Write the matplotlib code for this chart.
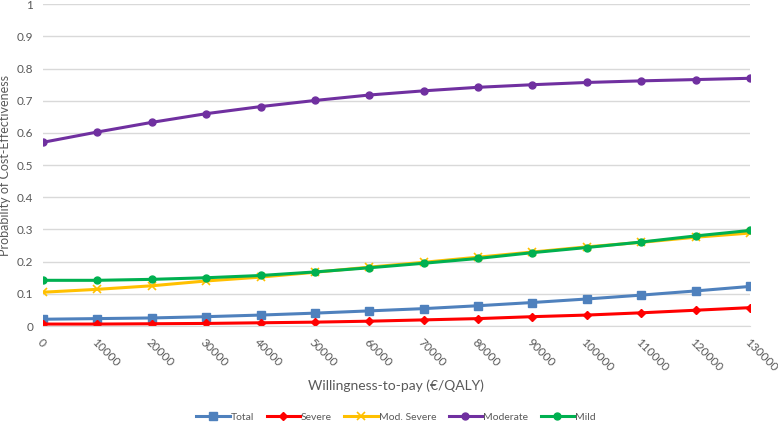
import matplotlib.pyplot as plt
import numpy as np

plt.rcParams['font.family'] = ['Lato', 'DejaVu Sans']

# willingness-to-pay thresholds (EUR/QALY)
wtp = [0, 10000, 20000, 30000, 40000, 50000, 60000, 70000,
       80000, 90000, 100000, 110000, 120000, 130000]

total = [0.021, 0.023, 0.025, 0.029, 0.034, 0.040, 0.047, 0.054,
         0.063, 0.073, 0.084, 0.096, 0.109, 0.123]
severe = [0.006, 0.006, 0.007, 0.008, 0.010, 0.012, 0.015, 0.019,
          0.023, 0.029, 0.034, 0.041, 0.049, 0.057]
mod_severe = [0.105, 0.114, 0.125, 0.140, 0.152, 0.167, 0.183, 0.198,
              0.214, 0.230, 0.246, 0.260, 0.276, 0.289]
moderate = [0.571, 0.603, 0.633, 0.660, 0.682, 0.701, 0.718, 0.731,
            0.742, 0.750, 0.757, 0.762, 0.766, 0.770]
mild = [0.142, 0.142, 0.145, 0.150, 0.157, 0.168, 0.181, 0.195,
        0.210, 0.228, 0.244, 0.261, 0.280, 0.297]

y_ticks = [0, 0.1, 0.2, 0.3, 0.4, 0.5, 0.6, 0.7, 0.8, 0.9, 1]
y_tick_labels = ["0", "0.1", "0.2", "0.3", "0.4", "0.5", "0.6", "0.7", "0.8", "0.9", "1"]

fig = plt.figure(figsize=(7.78, 4.23), dpi=100)
ax = fig.add_axes([43/778, 1-326/423, (750-43)/778, (326-4.3)/423])

ax.plot(wtp, total, color="#4F81BD", lw=2.2, marker="s", ms=6, label="Total")
ax.plot(wtp, severe, color="#FF0000", lw=2.2, marker="D", ms=4.5, label="Severe")
ax.plot(wtp, mod_severe, color="#FFC000", lw=2.2, marker="x", ms=6, mew=1.2, label="Mod. Severe")
ax.plot(wtp, moderate, color="#7030A0", lw=2.2, marker="o", ms=5, label="Moderate")
ax.plot(wtp, mild, color="#00B050", lw=2.2, marker="o", ms=5, label="Mild")

ax.set_xlim(0, 130000)
ax.set_ylim(0, 1)
ax.set_yticks(y_ticks)
ax.set_yticklabels(y_tick_labels)
ax.set_xticks(wtp)
ax.set_xticklabels([str(v) for v in wtp], rotation=-45, ha="left", va="top",
                   rotation_mode="anchor")
ax.tick_params(axis="both", length=0, colors="#595959", labelsize=8.5)
ax.tick_params(axis="x", pad=8)
ax.tick_params(axis="y", pad=7)

ax.grid(axis="y", color="#D9D9D9", lw=1)
ax.set_axisbelow(True)
for s in ["top", "right", "left"]:
    ax.spines[s].set_visible(False)
ax.spines["bottom"].set_color("#D9D9D9")

ax.set_ylabel("Probability of Cost-Effectiveness", color="#595959", fontsize=9)
ax.yaxis.set_label_coords((11 - 43) / 707, 0.5)
fig.text(396/778, 1-386/423, "Willingness-to-pay (€/QALY)", color="#595959",
         fontsize=10, ha="center", va="center")

leg = fig.legend(loc="center", bbox_to_anchor=(396/778, 1-417/423), ncol=5, frameon=False,
                 fontsize=7.5, handlelength=3.2, columnspacing=1.2, handletextpad=0.1)
for t in leg.get_texts():
    t.set_color("#595959")

fig.savefig("out.png", dpi=100)
